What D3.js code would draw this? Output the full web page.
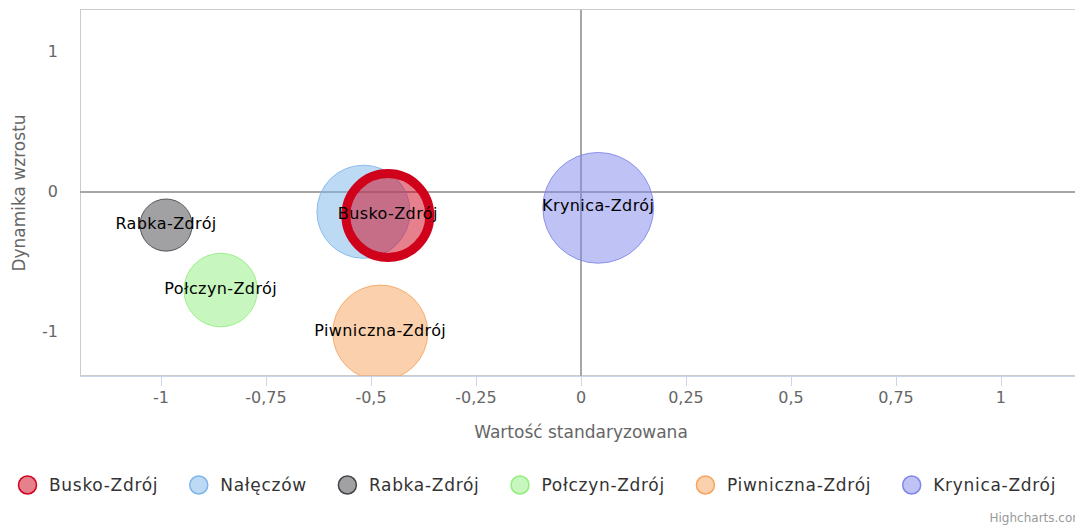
<!DOCTYPE html>
<html>
<head>
<meta charset="utf-8">
<script src="https://cdn.jsdelivr.net/npm/d3@7"></script>
<style>
  body { margin: 0; background: #fff; overflow: hidden; }
  text { font-family: "DejaVu Sans", sans-serif; }
</style>
</head>
<body>
<script>
let width = 1075;
let height = 527;

// data
let towns = ["Busko-Zdrój", "Nałęczów", "Rabka-Zdrój", "Połczyn-Zdrój", "Piwniczna-Zdrój", "Krynica-Zdrój"];
let xValues = [-0.46, -0.518, -0.988, -0.858, -0.478, 0.041];
let yValues = [-0.168, -0.141, -0.236, -0.70, -1.004, -0.113];
let zValues = [21.6, 21.7, 6.8, 13.5, 22.6, 30.7];
let colors = ["#d0021b", "#7cb5ec", "#434348", "#90ed7d", "#f7a35c", "#8085e9"];
let xTicks = [-1, -0.75, -0.5, -0.25, 0, 0.25, 0.5, 0.75, 1];
let yTicks = [-1, 0, 1];
// the reference hides the label that would overlap (Nałęczów)
let showLabel = [true, false, true, true, true, true];

let plotLeft = 80;
let plotRight = 1082;
let plotTop = 10;
let plotBottom = 376;

let svg = d3.select("body")
            .append("svg")
            .attr("width", width)
            .attr("height", height);

let x = d3.scaleLinear().domain([-1.193, 1.193]).range([plotLeft, plotRight]);
let y = d3.scaleLinear().domain([-1.314, 1.30]).range([plotBottom, plotTop]);
let r = d3.scaleSqrt().domain([0, d3.max(zValues)]).range([0, 55.4]);

let fmt = (v) => String(v).replace(".", ",");

svg.append("defs").append("clipPath")
    .attr("id", "plotClip")
    .append("rect")
    .attr("x", plotLeft)
    .attr("y", plotTop)
    .attr("width", plotRight - plotLeft)
    .attr("height", plotBottom - plotTop);

// plot border
svg.append("rect")
    .attr("x", plotLeft + 0.5)
    .attr("y", plotTop - 0.5)
    .attr("width", plotRight - plotLeft + 20)
    .attr("height", plotBottom - plotTop)
    .style("fill", "none")
    .style("stroke", "#cccccc")
    .style("stroke-width", 1);

// zero plot lines
svg.append("line")
    .attr("x1", plotLeft)
    .attr("x2", width)
    .attr("y1", y(0))
    .attr("y2", y(0))
    .style("stroke", "#a6a6a6")
    .style("stroke-width", 2);

svg.append("line")
    .attr("x1", x(0))
    .attr("x2", x(0))
    .attr("y1", plotTop)
    .attr("y2", plotBottom)
    .style("stroke", "#a6a6a6")
    .style("stroke-width", 2);

// bubbles, Busko-Zdrój drawn last (on top)
let order = [1, 2, 3, 4, 5, 0];
let bubbles = svg.append("g").attr("clip-path", "url(#plotClip)");
order.forEach((i) => {
    bubbles.append("circle")
        .attr("cx", x(xValues[i]))
        .attr("cy", y(yValues[i]))
        .attr("r", r(zValues[i]) - (i === 0 ? 4.5 : 0))
        .style("fill", colors[i])
        .style("fill-opacity", 0.5)
        .style("stroke", colors[i])
        .style("stroke-opacity", i === 0 ? 1 : 0.85)
        .style("stroke-width", i === 0 ? 9 : 1);
});

let labels = svg.append("g");
order.filter((i) => showLabel[i]).forEach((i) => {
    labels.append("text")
        .attr("x", x(xValues[i]))
        .attr("y", y(yValues[i]) - 2)
        .attr("dy", "0.35em")
        .attr("text-anchor", "middle")
        .style("font-size", "16px")
        .style("letter-spacing", "0.4px")
        .style("fill", "#000")
        .text(towns[i]);
});

// x axis
svg.append("line")
    .attr("x1", plotLeft)
    .attr("x2", width)
    .attr("y1", plotBottom + 0.5)
    .attr("y2", plotBottom + 0.5)
    .style("stroke", "#ccd6eb");

let xAxis = svg.append("g");
xTicks.forEach((t) => {
    xAxis.append("line")
        .attr("x1", Math.round(x(t)) + 0.5)
        .attr("x2", Math.round(x(t)) + 0.5)
        .attr("y1", plotBottom)
        .attr("y2", plotBottom + 10)
        .style("stroke", "#ccd6eb");
    xAxis.append("text")
        .attr("x", x(t))
        .attr("y", 403)
        .attr("text-anchor", "middle")
        .style("font-size", "16px")
        .style("fill", "#666666")
        .text(fmt(t));
});

let yAxis = svg.append("g");
yTicks.forEach((t) => {
    yAxis.append("text")
        .attr("x", 58)
        .attr("y", y(t) + 5)
        .attr("text-anchor", "end")
        .style("font-size", "16px")
        .style("fill", "#666666")
        .text(fmt(t));
});

// axis titles
svg.append("text")
    .attr("x", (plotLeft + plotRight) / 2)
    .attr("y", 438)
    .attr("text-anchor", "middle")
    .style("font-size", "17px")
    .style("fill", "#666666")
    .text("Wartość standaryzowana");

svg.append("text")
    .attr("transform", `translate(25,${(plotTop + plotBottom) / 2}) rotate(-90)`)
    .attr("text-anchor", "middle")
    .style("font-size", "17px")
    .style("fill", "#666666")
    .text("Dynamika wzrostu");

// legend
let legend = svg.append("g");
let lx = 18;
towns.forEach((name, i) => {
    let item = legend.append("g");
    item.append("circle")
        .attr("cx", lx + 9.5)
        .attr("cy", 485)
        .attr("r", 9)
        .style("fill", colors[i])
        .style("fill-opacity", 0.5)
        .style("stroke", colors[i])
        .style("stroke-width", 1.5);
    let label = item.append("text")
        .attr("x", lx + 31)
        .attr("y", 491)
        .style("font-size", "17px")
        .style("letter-spacing", "0.7px")
        .style("fill", "#333333")
        .text(name);
    lx += 31 + label.node().getComputedTextLength() + 31;
});

svg.append("text")
    .attr("x", 1084)
    .attr("y", 522)
    .attr("text-anchor", "end")
    .style("font-size", "12px")
    .style("fill", "#999999")
    .text("Highcharts.com");
</script>
</body>
</html>
